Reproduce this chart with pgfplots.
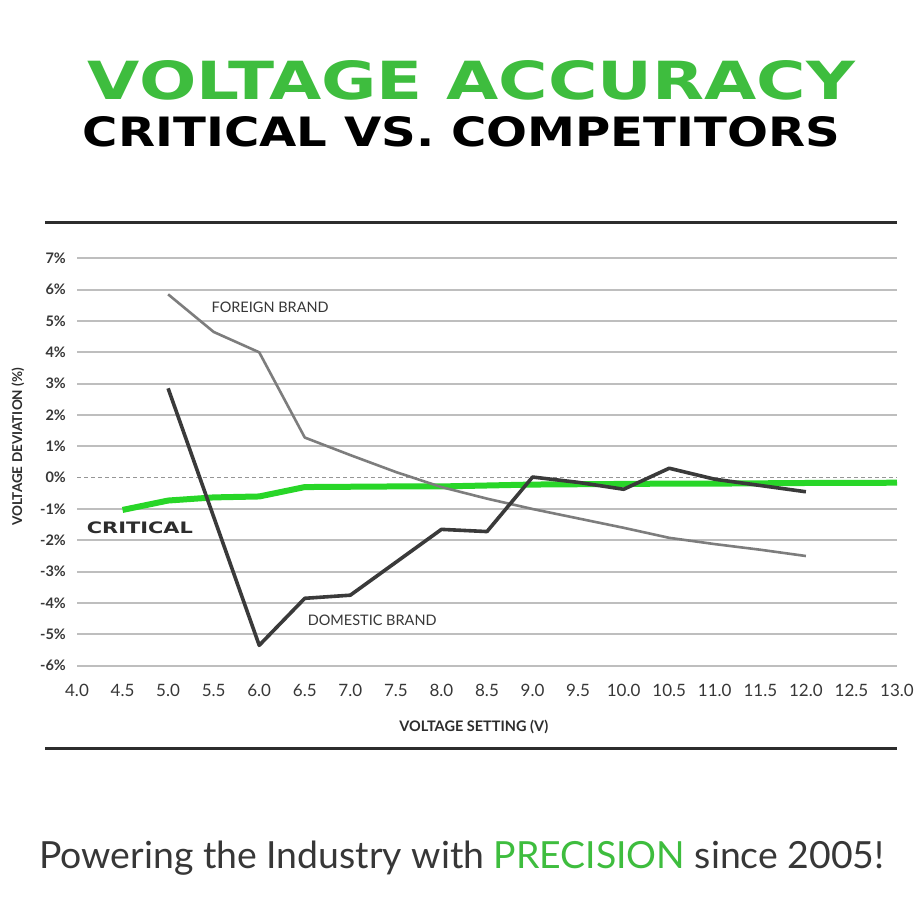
\documentclass[border=0pt]{standalone}
\usepackage{graphicx}
\usepackage{pgfplots}
\pgfplotsset{compat=1.18}
\usepackage{fontspec}
\setmainfont{Lato}
\newfontfamily\headfont{DejaVu Sans}

\definecolor{titlegreen}{RGB}{62,189,62}
\definecolor{linegreen}{RGB}{40,214,40}
\definecolor{foreigngray}{RGB}{125,125,125}
\definecolor{domesticgray}{RGB}{58,58,58}
\definecolor{gridgray}{RGB}{190,190,190}
\definecolor{zerogray}{RGB}{150,150,150}
\definecolor{textgray}{RGB}{55,55,55}
\definecolor{rulegray}{RGB}{45,45,45}

\begin{document}
\begin{tikzpicture}[x=1pt,y=1pt]
\fill[white] (0,0) rectangle (920,920);

% headings
\node[inner sep=0pt] at (471.5,840) {\resizebox{767pt}{39pt}{\headfont\bfseries\color{titlegreen}VOLTAGE ACCURACY}};
\node[inner sep=0pt] at (461.5,788) {\resizebox{757pt}{30pt}{\headfont\bfseries\color{black}CRITICAL VS. COMPETITORS}};

\draw[rulegray, line width=3pt] (45,697) -- (897,697);
\draw[rulegray, line width=3pt] (45,171) -- (897,171);

\begin{axis}[
  at={(77pt,254.3pt)}, anchor=south west,
  width=820pt, height=407.4pt, scale only axis,
  xmin=4, xmax=13, ymin=-6, ymax=7,
  axis x line=bottom, axis y line=left,
  axis line style={draw=none},
  major tick length=0pt,
  clip=false, no markers,
  xtick={4,4.5,5,5.5,6,6.5,7,7.5,8,8.5,9,9.5,10,10.5,11,11.5,12,12.5,13},
  xticklabels={4.0,4.5,5.0,5.5,6.0,6.5,7.0,7.5,8.0,8.5,9.0,9.5,10.0,10.5,11.0,11.5,12.0,12.5,13.0},
  ytick={-6,-5,-4,-3,-2,-1,1,2,3,4,5,6,7},
  yticklabels={-6\%,-5\%,-4\%,-3\%,-2\%,-1\%,1\%,2\%,3\%,4\%,5\%,6\%,7\%},
  extra y ticks={0}, extra y tick labels={0\%},
  extra y tick style={ymajorgrids=true,
    major grid style={zerogray, line width=1.6pt, dash pattern=on 4pt off 3pt}},
  ymajorgrids=true,
  major grid style={gridgray, line width=1.8pt},
  xticklabel style={font=\fontsize{17}{20}\selectfont, text=textgray,
    anchor=north, inner sep=0pt, yshift=-18pt},
  yticklabel style={font=\bfseries\fontsize{14.5}{16}\selectfont, text=textgray,
    anchor=east, inner sep=0pt, xshift=-11pt},
  xlabel={VOLTAGE SETTING (V)},
  xlabel style={at={(axis description cs:0.484,0)}, anchor=center, yshift=-61pt,
    font=\bfseries\fontsize{14.5}{16}\selectfont, text=rulegray},
  ylabel={VOLTAGE DEVIATION (\%)},
  ylabel style={at={(axis description cs:0,0.537)}, anchor=center, yshift=59pt,
    font=\bfseries\fontsize{13.5}{15}\selectfont, text=rulegray},
]
% CRITICAL
\addplot[linegreen, line width=6pt, line join=round] coordinates {
  (4.5,-1.03) (5.0,-0.73) (5.5,-0.63) (6.0,-0.6) (6.5,-0.3) (7.0,-0.29)
  (7.5,-0.28) (8.0,-0.28) (8.5,-0.25) (9.0,-0.22) (9.5,-0.21) (10.0,-0.2)
  (10.5,-0.19) (11.0,-0.19) (11.5,-0.18) (12.0,-0.17) (12.5,-0.17) (13.0,-0.16)};
% FOREIGN BRAND
\addplot[foreigngray, line width=2.6pt, line join=round] coordinates {
  (5.0,5.85) (5.5,4.65) (6.0,4.0) (6.5,1.28) (7.0,0.72) (7.5,0.18) (8.0,-0.3)
  (8.5,-0.67) (9.0,-1.0) (9.5,-1.3) (10.0,-1.6) (10.5,-1.92) (11.0,-2.12)
  (11.5,-2.3) (12.0,-2.5)};
% DOMESTIC BRAND
\addplot[domesticgray, line width=3.6pt, line join=round] coordinates {
  (5.0,2.85) (6.0,-5.35) (6.5,-3.85) (7.0,-3.75) (7.5,-2.7) (8.0,-1.65)
  (8.5,-1.72) (9.0,0.02) (9.5,-0.15) (10.0,-0.37) (10.5,0.3) (11.0,-0.05)
  (11.5,-0.25) (12.0,-0.45)};

\node[text=textgray, font=\fontsize{14.5}{17}\selectfont, inner sep=0pt]
  at (axis cs:6.12,5.43) {FOREIGN BRAND};
\node[text=textgray, font=\fontsize{14.5}{17}\selectfont, inner sep=0pt]
  at (axis cs:7.24,-4.54) {DOMESTIC BRAND};
\node[inner sep=0pt] at (axis cs:4.69,-1.61)
  {\resizebox{106pt}{11.7pt}{\headfont\bfseries\color{rulegray}CRITICAL}};
\end{axis}

\node[inner sep=0pt] at (462,62) {\resizebox{845pt}{!}{\color{textgray}Powering the Industry with \textcolor{titlegreen}{PRECISION} since 2005!}};
\end{tikzpicture}
\end{document}
